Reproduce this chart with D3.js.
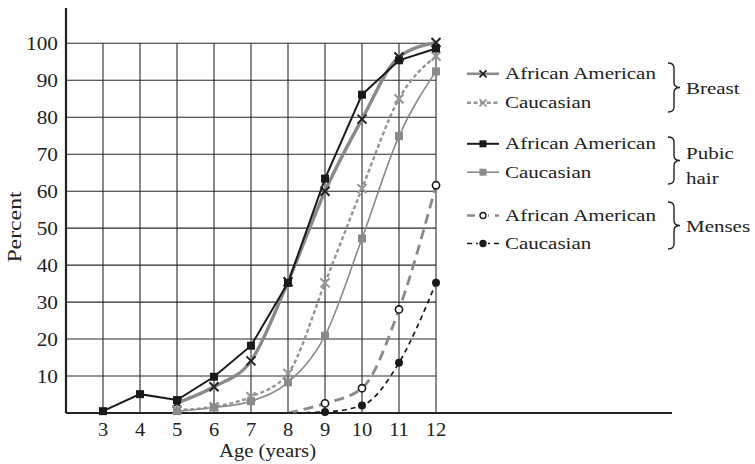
<!DOCTYPE html>
<html>
<head>
<meta charset="utf-8">
<script src="https://cdn.jsdelivr.net/npm/d3@7"></script>
<style>
  html, body { margin: 0; padding: 0; background: #fff; }
  svg { display: block; font-family: "Liberation Serif", "Times New Roman", serif; }
</style>
</head>
<body>
<svg width="755" height="464"></svg>
<script>
// ages on the x axis and percent ticks on the y axis
const ageTicks = [3, 4, 5, 6, 7, 8, 9, 10, 11, 12];
const percentTicks = [10, 20, 30, 40, 50, 60, 70, 80, 90, 100];

// series values (age -> percent)
const breastAAAges = [5, 6, 7, 8, 9, 10, 11, 12];
const breastAAValues = [2.7, 7.1, 14.1, 35.5, 60, 79.5, 96.3, 100.2];
const breastCauAges = [5, 6, 7, 8, 9, 10, 11, 12];
const breastCauValues = [0.8, 1.7, 4.4, 10.7, 35.2, 60.7, 85, 96.5];
const pubicAAAges = [3, 4, 5, 6, 7, 8, 9, 10, 11, 12];
const pubicAAValues = [0.5, 5.1, 3.5, 9.8, 18.2, 35.2, 63.4, 86.1, 95.4, 98.6];
const pubicCauAges = [5, 6, 7, 8, 9, 10, 11, 12];
const pubicCauValues = [0.5, 1.5, 3.2, 8.3, 20.9, 47.2, 74.9, 92.4];
const mensesAAAges = [8, 9, 10, 11, 12];
const mensesAAValues = [0, 2.6, 6.7, 28, 61.6];
const mensesCauAges = [8, 9, 10, 11, 12];
const mensesCauValues = [0, 0.3, 2, 13.6, 35.2];

const legendNames = ["African American", "Caucasian"];
const groupNames = [["Breast"], ["Pubic", "hair"], ["Menses"]];

const svg = d3.select("svg");

// x: age 2 sits on the y axis, axis line runs on past 12
const x = d3.scaleLinear().domain([2, 12]).range([66, 436]);
const y = d3.scaleLinear().domain([0, 100]).range([413, 43.3]);
const xEnd = 672;
const yTop = 8;

const grey = "#8a8a8a";
const dark = "#1a1a1a";

const series = [
  { ages: breastAAAges, vals: breastAAValues, color: grey, width: 3.4, dash: null, curve: d3.curveMonotoneX, marker: "x", mcolor: "#222" },
  { ages: breastCauAges, vals: breastCauValues, color: "#959595", width: 2.4, dash: "4,2.6", curve: d3.curveMonotoneX, marker: "x", mcolor: "#959595" },
  { ages: pubicAAAges, vals: pubicAAValues, color: dark, width: 2, dash: null, curve: d3.curveLinear, marker: "sq", mcolor: dark },
  { ages: pubicCauAges, vals: pubicCauValues, color: grey, width: 1.6, dash: null, curve: d3.curveMonotoneX, marker: "sq", mcolor: grey },
  { ages: mensesAAAges, vals: mensesAAValues, color: grey, width: 2.8, dash: "10,6", curve: d3.curveMonotoneX, marker: "oc", mcolor: dark },
  { ages: mensesCauAges, vals: mensesCauValues, color: dark, width: 1.7, dash: "5,4", curve: d3.curveMonotoneX, marker: "fc", mcolor: dark }
];

// grid
const grid = svg.append("g").attr("stroke", "#2a2a2a").attr("stroke-width", 1.1);
grid.selectAll(".v").data(ageTicks).join("line")
  .attr("x1", d => x(d)).attr("x2", d => x(d))
  .attr("y1", y(0)).attr("y2", y(100));
grid.selectAll(".h").data(percentTicks).join("line")
  .attr("x1", x(2)).attr("x2", x(12))
  .attr("y1", d => y(d)).attr("y2", d => y(d));

// axis lines
svg.append("line").attr("x1", x(2)).attr("x2", xEnd).attr("y1", y(0)).attr("y2", y(0))
  .attr("stroke", "#222").attr("stroke-width", 1.8);
svg.append("line").attr("x1", x(2)).attr("x2", x(2)).attr("y1", yTop).attr("y2", y(0))
  .attr("stroke", "#222").attr("stroke-width", 2.2);

// tick labels
const tickSize = 19;
svg.append("g").selectAll("text").data(ageTicks).join("text")
  .attr("transform", d => `translate(${x(d)},436) scale(1.08,1)`)
  .attr("text-anchor", "middle").attr("font-size", tickSize).attr("fill", "#222")
  .text(d => d);
svg.append("g").selectAll("text").data(percentTicks).join("text")
  .attr("transform", d => `translate(58,${y(d) + 6.5}) scale(1.12,1)`)
  .attr("text-anchor", "end").attr("font-size", tickSize).attr("fill", "#222")
  .text(d => d);

// axis titles
svg.append("text")
  .attr("transform", `translate(${x(7.5) - 2},457) scale(1.12,1)`)
  .attr("text-anchor", "middle").attr("font-size", 18.5).attr("fill", "#222")
  .text("Age (years)");
svg.append("text")
  .attr("transform", "translate(21,227) rotate(-90) scale(1.25,1)")
  .attr("text-anchor", "middle").attr("font-size", 19).attr("fill", "#222")
  .text("Percent");

// marker shapes
function drawMarker(g, kind, color) {
  if (kind === "x") {
    g.append("path").attr("d", "M-4.5,-4.5L4.5,4.5M-4.5,4.5L4.5,-4.5")
      .attr("stroke", color).attr("stroke-width", 2).attr("fill", "none");
  } else if (kind === "sq") {
    g.append("rect").attr("x", -4).attr("y", -4).attr("width", 8).attr("height", 8).attr("fill", color);
  } else if (kind === "oc") {
    g.append("circle").attr("r", 3.6).attr("fill", "#fff").attr("stroke", color).attr("stroke-width", 1.6);
  } else {
    g.append("circle").attr("r", 4).attr("fill", color);
  }
}

// series lines and markers
series.forEach(s => {
  const pts = s.ages.map((a, i) => [a, s.vals[i]]);
  const line = d3.line().x(d => x(d[0])).y(d => y(d[1])).curve(s.curve);
  svg.append("path").datum(pts).attr("d", line)
    .attr("fill", "none").attr("stroke", s.color).attr("stroke-width", s.width)
    .attr("stroke-dasharray", s.dash);
  pts.filter(d => d[1] > 0).forEach(d => {
    const g = svg.append("g").attr("transform", `translate(${x(d[0])},${y(d[1])})`);
    drawMarker(g, s.marker, s.mcolor);
  });
});

// legend
const rowBase = [79.3, 108.3, 149.3, 177.7, 221, 249];
const leg = svg.append("g");
series.forEach((s, i) => {
  const cy = rowBase[i] - 5.5;
  leg.append("line").attr("x1", 467).attr("x2", 499).attr("y1", cy).attr("y2", cy)
    .attr("stroke", s.color).attr("stroke-width", Math.min(s.width, 2.6))
    .attr("stroke-dasharray", s.dash ? (s.marker === "oc" ? "8,6" : s.dash) : null);
  const g = leg.append("g").attr("transform", `translate(483,${cy})`);
  if (s.marker === "sq") {
    g.append("rect").attr("x", -3.5).attr("y", -3.5).attr("width", 7).attr("height", 7).attr("fill", s.mcolor);
  } else if (s.marker === "x") {
    g.append("path").attr("d", "M-3.5,-3.5L3.5,3.5M-3.5,3.5L3.5,-3.5")
      .attr("stroke", s.mcolor).attr("stroke-width", 1.8);
  } else {
    g.append("rect").attr("x", -5).attr("y", -3).attr("width", 10).attr("height", 6).attr("fill", "#fff");
    g.append("circle").attr("r", 3).attr("fill", s.marker === "oc" ? "#fff" : s.mcolor)
      .attr("stroke", s.mcolor).attr("stroke-width", 1.4);
  }
  leg.append("text")
    .attr("transform", `translate(505,${rowBase[i]}) scale(1.2,1)`)
    .attr("font-size", 17.5).attr("fill", "#222")
    .text(legendNames[i % 2]);
});

// braces with group names
const braceSpans = [[63, 112], [137, 184], [202, 249]];
function bracePath(x0, y0, y1, w) {
  const m = (y0 + y1) / 2;
  const h = w / 2;
  return `M${x0},${y0} Q${x0 + h},${y0} ${x0 + h},${y0 + 5} L${x0 + h},${m - 5} Q${x0 + h},${m} ${x0 + w},${m}` +
    ` Q${x0 + h},${m} ${x0 + h},${m + 5} L${x0 + h},${y1 - 5} Q${x0 + h},${y1} ${x0},${y1}`;
}
braceSpans.forEach((sp, i) => {
  leg.append("path").attr("d", bracePath(668, sp[0], sp[1], 12))
    .attr("fill", "none").attr("stroke", "#222").attr("stroke-width", 1.4);
  const names = groupNames[i];
  const mid = (sp[0] + sp[1]) / 2;
  names.forEach((n, j) => {
    const by = names.length === 1 ? mid + 6.5 : mid - 2 + (j * 25);
    leg.append("text")
      .attr("transform", `translate(686,${by}) scale(1.2,1)`)
      .attr("font-size", 17.5).attr("fill", "#222")
      .text(n);
  });
});
</script>
</body>
</html>
